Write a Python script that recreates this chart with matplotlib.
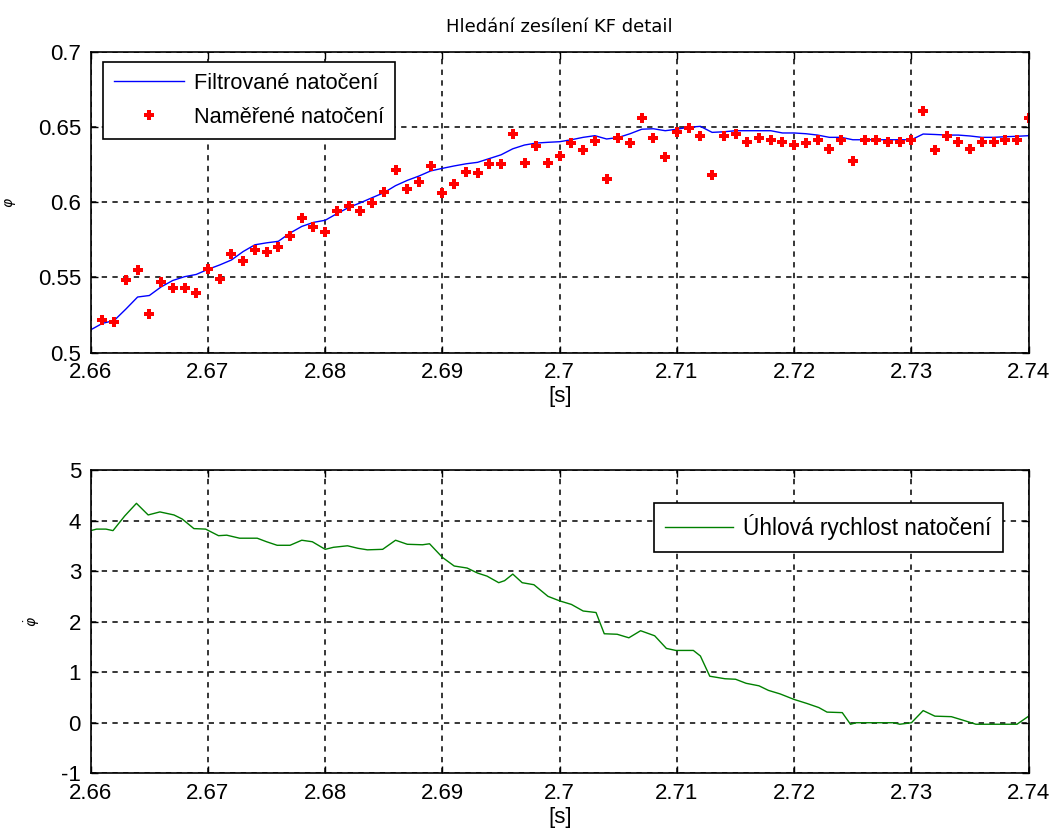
import numpy as np
import matplotlib
matplotlib.use('Agg')
from matplotlib import pyplot as plt
from matplotlib.ticker import FuncFormatter, MultipleLocator

plt.rcParams['font.family'] = ['Liberation Sans', 'DejaVu Sans']

# namerene natoceni - vzorky po 1 ms
t_meas = np.round(np.arange(2.661, 2.7405, 0.001), 3)
phi_meas = [0.5219, 0.5203, 0.5482, 0.5549, 0.5254, 0.5467, 0.5431, 0.5431, 0.5395, 0.5554,
            0.5491, 0.5656, 0.5609, 0.5681, 0.5667, 0.5703, 0.5777, 0.5895, 0.5835, 0.5799,
            0.5944, 0.5978, 0.5944, 0.5996, 0.6071, 0.6217, 0.6085, 0.6134, 0.6241, 0.6063,
            0.6118, 0.6203, 0.6192, 0.6252, 0.6252, 0.6453, 0.6263, 0.6371, 0.6263, 0.6308,
            0.6393, 0.6348, 0.6404, 0.6156, 0.6426, 0.6393, 0.6560, 0.6426, 0.6299, 0.6464,
            0.6491, 0.6442, 0.6179, 0.6440, 0.6451, 0.6402, 0.6429, 0.6413, 0.6402, 0.6379,
            0.6391, 0.6413, 0.6355, 0.6413, 0.6272, 0.6413, 0.6413, 0.6402, 0.6402, 0.6413,
            0.6607, 0.6346, 0.6440, 0.6402, 0.6355, 0.6402, 0.6402, 0.6413, 0.6413, 0.6558]

# vystup Kalmanova filtru
t_filt = np.round(np.arange(2.660, 2.7405, 0.001), 3)
phi_filt = [0.5152, 0.5195, 0.5214, 0.5290, 0.5370, 0.5380, 0.5437, 0.5480, 0.5505, 0.5520,
            0.5554, 0.5583, 0.5616, 0.5672, 0.5717, 0.5730, 0.5740, 0.5795, 0.5839, 0.5866,
            0.5880, 0.5924, 0.5965, 0.5996, 0.6030, 0.6063, 0.6110, 0.6145, 0.6174, 0.6208,
            0.6225, 0.6241, 0.6255, 0.6265, 0.6290, 0.6315, 0.6355, 0.6380, 0.6393, 0.6398,
            0.6402, 0.6415, 0.6431, 0.6442, 0.6420, 0.6430, 0.6455, 0.6485, 0.6488, 0.6475,
            0.6485, 0.6498, 0.6504, 0.6464, 0.6468, 0.6475, 0.6475, 0.6475, 0.6475, 0.6460,
            0.6460, 0.6455, 0.6446, 0.6431, 0.6431, 0.6415, 0.6415, 0.6415, 0.6415, 0.6415,
            0.6415, 0.6453, 0.6450, 0.6446, 0.6446, 0.6440, 0.6431, 0.6431, 0.6435, 0.6438,
            0.6442]

# uhlova rychlost
t_vel = [2.6600, 2.6605, 2.6613, 2.6619, 2.6629, 2.6639, 2.6649, 2.6659, 2.6671, 2.6678,
         2.6688, 2.6698, 2.6709, 2.6716, 2.6727, 2.6742, 2.6750, 2.6759, 2.6770, 2.6780,
         2.6789, 2.6800, 2.6807, 2.6819, 2.6828, 2.6836, 2.6849, 2.6860, 2.6870, 2.6883,
         2.6889, 2.6900, 2.6910, 2.6921, 2.6930, 2.6938, 2.6948, 2.6953, 2.6960, 2.6968,
         2.6978, 2.6990, 2.7000, 2.7010, 2.7020, 2.7031, 2.7038, 2.7049, 2.7059, 2.7069,
         2.7081, 2.7091, 2.7099, 2.7114, 2.7120, 2.7128, 2.7141, 2.7150, 2.7159, 2.7170,
         2.7178, 2.7188, 2.7200, 2.7211, 2.7221, 2.7228, 2.7241, 2.7248, 2.7253, 2.7285,
         2.7290, 2.7300, 2.7310, 2.7320, 2.7334, 2.7344, 2.7355, 2.7390, 2.7400]
vel = [3.80, 3.83, 3.83, 3.80, 4.09, 4.34, 4.11, 4.17, 4.11, 4.03,
       3.84, 3.83, 3.70, 3.71, 3.65, 3.65, 3.58, 3.51, 3.51, 3.61,
       3.58, 3.43, 3.47, 3.50, 3.45, 3.42, 3.43, 3.61, 3.53, 3.52,
       3.54, 3.27, 3.10, 3.06, 2.96, 2.90, 2.77, 2.81, 2.94, 2.77,
       2.73, 2.50, 2.41, 2.34, 2.21, 2.18, 1.76, 1.75, 1.68, 1.82,
       1.72, 1.47, 1.43, 1.43, 1.32, 0.92, 0.87, 0.86, 0.78, 0.73,
       0.64, 0.57, 0.46, 0.38, 0.30, 0.21, 0.20, -0.03, 0.00, 0.00,
       -0.03, 0.00, 0.24, 0.13, 0.12, 0.05, -0.03, -0.03, 0.13]

fmt = FuncFormatter(lambda v, p: '%g' % round(v, 6))


def style_axes(ax):
    ax.grid(True, color='black', linestyle=(0, (3.5, 3.5)), linewidth=1.1)
    ax.set_axisbelow(True)
    ax.tick_params(direction='in', length=5, width=1, labelsize=16, top=True, right=True)
    ax.tick_params(axis='y', pad=7)
    ax.tick_params(axis='x', pad=7)
    for s in ax.spines.values():
        s.set_linewidth(1.2)
    ax.xaxis.set_major_locator(MultipleLocator(0.01))
    ax.xaxis.set_major_formatter(fmt)
    ax.yaxis.set_major_formatter(fmt)
    ax.set_xlim(2.66, 2.74)
    ax.set_xlabel('[s]', fontsize=16, labelpad=2)


def style_legend(leg):
    leg.get_frame().set_linewidth(1.2)


fig = plt.figure(figsize=(10.5, 8.34), dpi=100)
ax1 = fig.add_axes([0.0864, 0.5771, 0.8933, 0.3609])
ax2 = fig.add_axes([0.0864, 0.0728, 0.8933, 0.3637])

ax1.plot(t_filt, phi_filt, color='blue', linewidth=1.0, label='Filtrované natočení')
ax1.plot(t_meas, phi_meas, linestyle='none', marker='P', markersize=6.5, color='red',
         markeredgewidth=0, label='Naměřené natočení')
style_axes(ax1)
ax1.set_ylim(0.5, 0.7)
ax1.yaxis.set_major_locator(MultipleLocator(0.05))
ax1.set_ylabel(r'$\varphi$', fontsize=10, labelpad=14)
ax1.set_title('Hledání zesílení KF detail', fontsize=13, pad=14, family='DejaVu Sans')
leg1 = ax1.legend(loc='upper left', bbox_to_anchor=(0.0131, 0.9658), borderaxespad=0,
                  fontsize=15.7, fancybox=False, edgecolor='black', framealpha=1,
                  borderpad=0.5, handlelength=3.2, handletextpad=0.45, labelspacing=0.6)
style_legend(leg1)

ax2.plot(t_vel, vel, color='green', linewidth=1.0, label='Úhlová rychlost natočení')
style_axes(ax2)
ax2.set_ylim(-1, 5)
ax2.yaxis.set_major_locator(MultipleLocator(1))
ax2.set_ylabel(r'$\dot{\varphi}$', fontsize=10, labelpad=14)
leg2 = ax2.legend(loc='upper right', bbox_to_anchor=(0.9726, 0.891), borderaxespad=0,
                  fontsize=16.3, fancybox=False, edgecolor='black', framealpha=1,
                  borderpad=0.5, handlelength=3.0, handletextpad=0.45)
style_legend(leg2)

# popisek -1 trochu nahoru, at nekoliduje s 2.66
fig.canvas.draw()
ax2.yaxis.get_major_ticks()[0].label1.set_verticalalignment('center_baseline')

fig.savefig('out.png', dpi=100, facecolor='white')
